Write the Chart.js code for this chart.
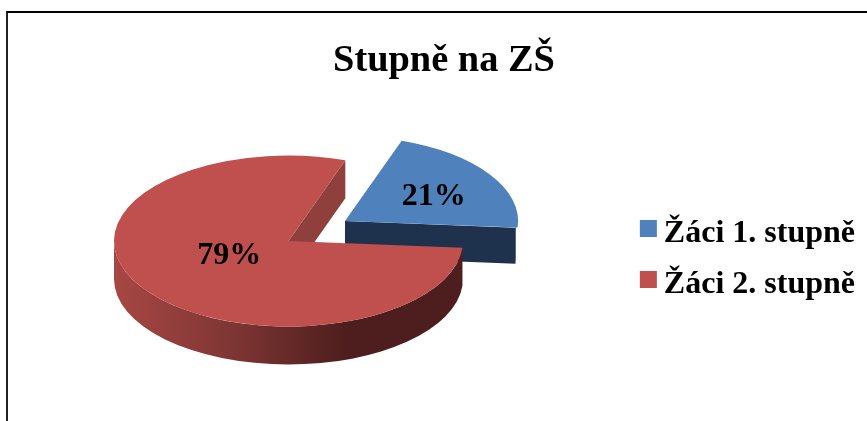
<!DOCTYPE html>
<html><head><meta charset="utf-8">
<script src="https://cdn.jsdelivr.net/npm/chart.js@4/dist/chart.umd.min.js"></script>
<style>
html,body{margin:0;padding:0;background:#fff;overflow:hidden;width:867px;height:421px}
#c{position:absolute;left:0;top:0}
#frame{position:absolute;left:6px;top:11px;width:1000px;height:1000px;border-left:2px solid #222;border-top:2px solid #000;pointer-events:none}
</style></head><body>
<canvas id="c" width="867" height="421"></canvas><div id="frame"></div>
<script>
const titleText = 'Stupně na ZŠ';
const categories = ['Žáci 1. stupně', 'Žáci 2. stupně'];
const values = [21, 79];
const colors = ['#4F81BD', '#C0504D'];
const radialColors = ['#1F324D', '#8F3F3C'];
const sideStops = [['#1F324D','#1F324D'], ['#A84744','#7F3634','#4D1E1D','#4D1E1D']];
const labelPlace = [0.62, 0.373];
const labelTurn = [0, 9];
const depths = [36, 38];
const font = '"Liberation Serif","Times New Roman",serif';
const SQUASH = 0.49, CX = 288.5, CY = 241, R = 174.5, R_SMALL = 171, LIFT = 4;

const pie3d = {
  id: 'pie3d',
  afterDatasetsUpdate(chart) {
    const blue = chart.getDatasetMeta(0).data[0];
    blue.outerRadius = R_SMALL;
    blue.y -= LIFT;
  },
  beforeDatasetsDraw(chart) {
    const ctx = chart.ctx, arcs = chart.getDatasetMeta(0).data;
    const ox = arcs[1].x, oy = arcs[1].y;
    const map = (x, y) => [CX + (x - ox), CY + (y - oy) * SQUASH];
    arcs.forEach((a, i) => {
      const off = (a.options.offset || 0) / 4, mid = (a.startAngle + a.endAngle) / 2;
      const [x, y] = map(a.x + Math.cos(mid) * off, a.y + Math.sin(mid) * off);
      const r = a.outerRadius, s = a.startAngle, e = a.endAngle, DEPTH = depths[i];
      const pt = t => [x + r * Math.cos(t), y + r * SQUASH * Math.sin(t)];
      const face = t => {
        const p = pt(t);
        ctx.beginPath(); ctx.moveTo(x, y); ctx.lineTo(p[0], p[1]);
        ctx.lineTo(p[0], p[1] + DEPTH); ctx.lineTo(x, y + DEPTH); ctx.closePath();
        ctx.fillStyle = radialColors[i]; ctx.fill();
      };
      if (Math.sin(s - Math.PI / 2) > 0) face(s);
      if (Math.sin(e + Math.PI / 2) > 0) face(e);
      const g = ctx.createLinearGradient(x - r, 0, x + r, 0);
      sideStops[i].forEach((c, j, l) => g.addColorStop(j / (l.length - 1), c));
      for (const k of [-1, 0, 1]) {
        const lo = Math.max(s, k * 2 * Math.PI), hi = Math.min(e, k * 2 * Math.PI + Math.PI);
        if (hi <= lo) continue;
        ctx.beginPath();
        ctx.ellipse(x, y, r, r * SQUASH, 0, lo, hi);
        ctx.ellipse(x, y + DEPTH, r, r * SQUASH, 0, hi, lo, true);
        ctx.closePath(); ctx.fillStyle = g; ctx.fill();
      }
    });
    ctx.save();
    ctx.translate(CX, CY); ctx.scale(1, SQUASH); ctx.translate(-ox, -oy);
  },
  afterDatasetsDraw(chart) {
    const ctx = chart.ctx, arcs = chart.getDatasetMeta(0).data;
    ctx.restore();
    ctx.save();
    ctx.font = 'bold 32px ' + font; ctx.fillStyle = '#000';
    ctx.textAlign = 'center'; ctx.textBaseline = 'middle';
    const total = values.reduce((p, v) => p + v, 0);
    arcs.forEach((a, i) => {
      const off = (a.options.offset || 0) / 4, mid = (a.startAngle + a.endAngle) / 2;
      const turned = mid + labelTurn[i] * Math.PI / 180;
      const lx = CX + Math.cos(mid) * off + Math.cos(turned) * a.outerRadius * labelPlace[i];
      const ly = CY + (Math.sin(mid) * off + Math.sin(turned) * a.outerRadius * labelPlace[i]) * SQUASH;
      ctx.fillText(Math.round(values[i] / total * 100) + '%', lx, ly + 2);
    });
    ctx.restore();
  },
  afterDraw(chart) {
    const ctx = chart.ctx, lg = chart.legend;
    lg.legendHitBoxes.forEach((b, i) => {
      ctx.fillStyle = colors[i];
      ctx.fillRect(b.left - 8, b.top + 2, 17, 17);
    });
  }
};

new Chart(document.getElementById('c'), {
  type: 'pie',
  data: { labels: categories, datasets: [{ data: values, backgroundColor: colors, borderWidth: 0, offset: [270, 0], clip: false }] },
  options: {
    responsive: false, animation: false, events: [],
    rotation: 19, radius: R,
    layout: { padding: { left: 23, right: 2, top: 38, bottom: -60 } },
    plugins: {
      tooltip: { enabled: false },
      title: { display: true, text: titleText, color: '#000', align: 'center', padding: { top: 0, bottom: 10 }, font: { family: font, size: 38.4, weight: 'bold' } },
      legend: { position: 'right', align: 'center', labels: { boxWidth: 0, boxHeight: 0, padding: 19, color: '#000', font: { family: font, size: 32, weight: 'bold' } } }
    }
  },
  plugins: [pie3d]
});
</script>
</body></html>
